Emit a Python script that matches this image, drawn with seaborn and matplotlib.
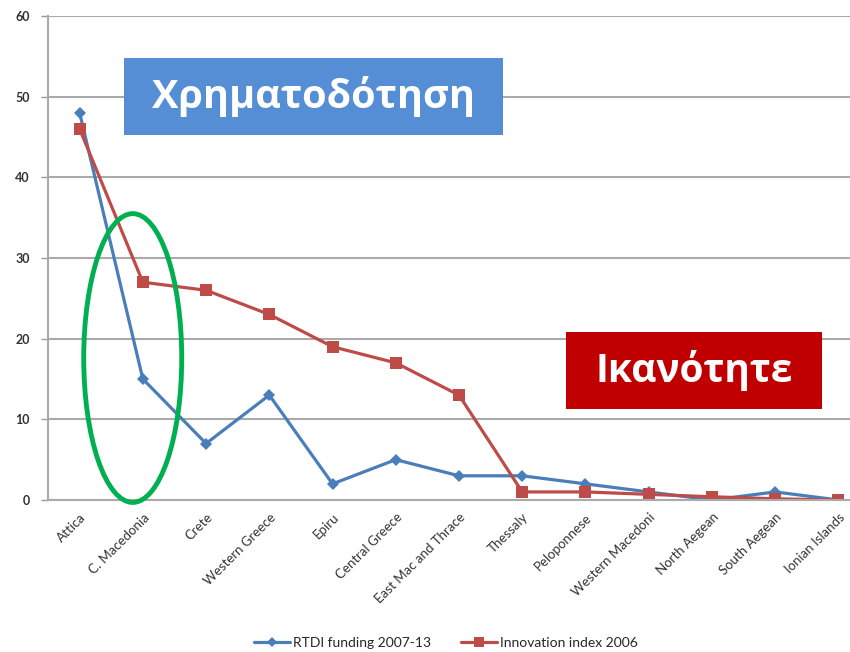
import matplotlib
matplotlib.use("Agg")
import matplotlib.pyplot as plt
import seaborn as sns
import pandas as pd
import numpy as np
from matplotlib.patches import Ellipse, Rectangle
from matplotlib.lines import Line2D

categories = ["Attica", "C. Macedonia", "Crete", "Western Greece", "Epiru",
              "Central Greece", "East Mac and Thrace", "Thessaly", "Peloponnese",
              "Western Macedoni", "North Aegean", "South Aegean", "Ionian Islands"]
rtdi_funding = [48, 15, 7, 13, 2, 5, 3, 3, 2, 1, 0, 1, 0]
innovation_index = [46, 27, 26, 23, 19, 17, 13, 1, 1, 0.7, 0.4, 0.15, 0]
series_names = ["RTDI funding 2007-13", "Innovation index 2006"]
y_ticks = [0, 10, 20, 30, 40, 50, 60]

df = pd.DataFrame({
    "region": categories * 2,
    "value": rtdi_funding + innovation_index,
    "series": [series_names[0]] * len(categories) + [series_names[1]] * len(categories),
})

sns.set_style("white")
plt.rcParams["font.family"] = ["Lato", "DejaVu Sans"]

W, H = 850, 652
fig = plt.figure(figsize=(W / 100, H / 100), dpi=100)
# axes in pixel geometry: left 48, right ~870 (cropped by figure), top 16, bottom 500
ax = fig.add_axes([48 / W, (H - 500) / H, (870 - 48) / W, (500 - 16) / H])

blue = "#4A7EBB"
red = "#BE4B48"
palette = {series_names[0]: blue, series_names[1]: red}
markers = {series_names[0]: "D", series_names[1]: "s"}

sns.lineplot(data=df, x="region", y="value", hue="series", style="series",
             markers=markers, dashes=False, palette=palette, sort=False,
             linewidth=2.3, markersize=7, markeredgewidth=0, ax=ax, legend=False)
for line in ax.lines:
    if line.get_marker() == "D":
        line.set_markersize(6.5)
    elif line.get_marker() == "s":
        line.set_markersize(8.5)

n = len(categories)
ax.set_xlim(-0.5, n - 0.5)
ax.set_ylim(0, 60)
ax.set_yticks(y_ticks)
ax.set_yticklabels([str(t) for t in y_ticks], fontsize=9, color="#333333",
                   fontweight="bold")
ax.set_xticks(range(n))
ax.set_xticklabels(categories, rotation=45, ha="right", rotation_mode="anchor",
                   fontsize=9.5, color="#333333")
ax.set_xticks(np.arange(-0.5, n, 1), minor=True)
ax.tick_params(axis="x", which="major", length=0, pad=8)
ax.tick_params(axis="x", which="minor", length=5, color="#999999", width=1)
ax.tick_params(axis="y", length=5, color="#999999", width=1, pad=8, left=True)
ax.set_xlabel("")
ax.set_ylabel("")
ax.grid(axis="y", color="#AAAAAA", linewidth=1.5)
ax.set_axisbelow(True)
for s in ["top", "right"]:
    ax.spines[s].set_visible(False)
ax.spines["left"].set_color("#AAAAAA")
ax.spines["left"].set_linewidth(1.5)
ax.spines["bottom"].set_color("#AAAAAA")
ax.spines["bottom"].set_linewidth(1.5)

# green ellipse (data coords)
ell = Ellipse((0.84, 17.6), width=1.55, height=35.8, fill=False,
              edgecolor="#00B050", linewidth=3.5, clip_on=False, zorder=5)
ax.add_patch(ell)

# legend
handles = [Line2D([0], [0], color=blue, marker="D", markersize=5.5, linewidth=2.3, markeredgewidth=0),
           Line2D([0], [0], color=red, marker="s", markersize=7, linewidth=2.3, markeredgewidth=0)]
fig.legend(handles, series_names, loc="center", bbox_to_anchor=(446 / W, 1 - 643 / H),
           ncol=2, frameon=False, fontsize=10, handlelength=2.6, columnspacing=2.2,
           handletextpad=0.2)

def box(x0, y0, x1, y1, color, text, fs):
    fig.patches.append(Rectangle((x0 / W, 1 - y1 / H), (x1 - x0) / W, (y1 - y0) / H,
                                 transform=fig.transFigure, facecolor=color,
                                 edgecolor="none", zorder=10))
    fig.text((x0 + x1) / 2 / W, 1 - (y0 + y1) / 2 / H, text, color="white",
             fontsize=fs, fontweight="bold", ha="center", va="center",
             family=["Open Sans", "DejaVu Sans"], zorder=11)

box(124, 58, 503, 135, "#558ED5", "Χρηματοδότηση", 28.5)
box(566, 332, 822, 409, "#C00000", "Ικανότητε", 28)

fig.savefig("out.png", dpi=100)
